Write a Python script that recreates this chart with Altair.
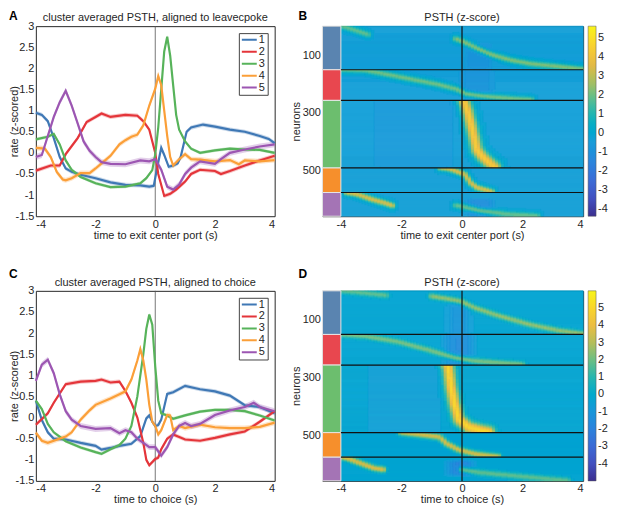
import numpy as np
import pandas as pd
import altair as alt

alt.data_transformers.disable_max_rows()

FONT = "Liberation Sans"
INK = "#262626"
SERIES = ["1", "2", "3", "4", "5"]
LINE_COLORS = ["#3f78b5", "#e4353a", "#57b35a", "#fb9f38", "#9c56b2"]
STRIP_COLORS = ["#5a84b0", "#e8474f", "#6cbe6e", "#f68f2c", "#a474b5"]
PARULA = ["#3b2e8f", "#4353c4", "#3a6fd8", "#2a88dc", "#1b9ed8", "#15b0c0",
          "#4ebc98", "#a5be64", "#e8b845", "#f9d22e", "#f8f518"]
XTICKS = [-4, -3, -2, -1, 0, 1, 2, 3, 4]
YTICKS = [-1.5, -1, -0.5, 0, 0.5, 1, 1.5, 2, 2.5, 3]
NTICKS = [100, 200, 300, 400, 500, 600]
CBTICKS = [-4, -3, -2, -1, 0, 1, 2, 3, 4, 5]
N_TOTAL = 658
BOUNDS = [0, 151, 257, 491, 576, 658]

# ---------------- panel A: aligned to leavecpoke ----------------
A1_T = [-4, -3.8, -3.6, -3.4, -3.2, -3.0, -2.8, -2.5, -2.0, -1.5, -1.0, -0.5, -0.2, -0.05, 0.05, 0.2, 0.3, 0.45, 0.6, 0.75, 0.85, 1.05, 1.2, 1.6, 2.0, 2.5, 3.0, 3.5, 3.8, 4.0]
A1_V = [0.95, 0.9, 0.75, 0.35, -0.1, -0.37, -0.45, -0.52, -0.6, -0.7, -0.76, -0.77, -0.8, -0.78, -0.4, 0.12, -0.05, -0.33, -0.3, -0.25, -0.1, 0.5, 0.6, 0.67, 0.62, 0.55, 0.5, 0.4, 0.33, 0.23]
A2_T = [-4, -3.5, -3.2, -3.0, -2.6, -2.3, -2.0, -1.8, -1.5, -1.0, -0.6, -0.4, -0.2, 0.0, 0.1, 0.3, 0.5, 0.7, 1.0, 1.2, 1.5, 2.0, 2.2, 2.5, 3.0, 3.5, 4.0]
A2_V = [-0.42, -0.3, -0.3, -0.03, 0.35, 0.73, 0.85, 0.93, 0.85, 0.9, 0.88, 0.75, 0.55, 0.0, -0.5, -1.02, -0.97, -0.87, -0.68, -0.5, -0.4, -0.43, -0.5, -0.43, -0.3, -0.18, -0.07]
A3_T = [-4, -3.6, -3.4, -3.2, -3.0, -2.8, -2.5, -2.0, -1.5, -1.0, -0.5, -0.3, -0.1, 0.0, 0.1, 0.2, 0.3, 0.4, 0.5, 0.6, 0.7, 0.8, 1.0, 1.2, 1.5, 2.0, 2.5, 3.0, 3.5, 4.0]
A3_V = [0.32, 0.38, 0.45, 0.2, -0.18, -0.4, -0.57, -0.72, -0.81, -0.8, -0.72, -0.6, -0.41, -0.03, 0.6, 1.5, 2.4, 2.75, 2.3, 1.6, 0.9, 0.55, 0.27, 0.1, 0.0, 0.06, 0.1, 0.08, 0.07, 0.0]
A4_T = [-4, -3.7, -3.5, -3.3, -3.1, -3.0, -2.8, -2.5, -2.2, -2.0, -1.8, -1.5, -1.2, -1.0, -0.8, -0.6, -0.4, -0.2, 0.0, 0.1, 0.2, 0.3, 0.4, 0.5, 0.6, 0.8, 1.0, 1.2, 1.5, 2.0, 2.5, 2.8, 3.0, 3.5, 4.0]
A4_V = [0.12, 0.1, -0.1, -0.45, -0.63, -0.65, -0.6, -0.48, -0.48, -0.37, -0.25, -0.07, 0.2, 0.3, 0.38, 0.43, 0.65, 1.12, 1.52, 1.82, 1.6, 1.0, 0.4, -0.1, -0.3, -0.15, -0.03, -0.15, -0.16, -0.2, -0.17, -0.27, -0.18, -0.2, -0.17]
A5_T = [-4, -3.8, -3.6, -3.4, -3.2, -3.0, -2.8, -2.6, -2.4, -2.2, -2.0, -1.8, -1.5, -1.0, -0.5, -0.2, 0.0, 0.2, 0.4, 0.6, 0.8, 1.0, 1.2, 1.5, 2.0, 2.2, 2.5, 3.0, 3.5, 4.0]
A5_V = [-0.1, -0.05, 0.4, 0.85, 1.2, 1.47, 1.12, 0.7, 0.27, 0.05, -0.1, -0.22, -0.26, -0.27, -0.18, -0.2, -0.15, -0.4, -0.8, -0.87, -0.75, -0.5, -0.35, -0.2, -0.26, -0.15, 0.0, 0.08, 0.15, 0.2]
SEM_A = [0.05, 0.05, 0.04, 0.06, 0.07]

# ---------------- panel C: aligned to choice ----------------
C1_T = [-4, -3.8, -3.6, -3.4, -3.0, -2.5, -2.0, -1.8, -1.5, -1.2, -0.8, -0.5, -0.3, -0.2, -0.1, 0.0, 0.1, 0.2, 0.4, 0.6, 1.0, 1.5, 2.0, 2.5, 3.0, 3.5, 4.0]
C1_V = [0.4, -0.06, -0.35, -0.5, -0.52, -0.6, -0.67, -0.76, -0.72, -0.67, -0.62, -0.44, -0.02, 0.05, -0.1, -0.2, -0.18, -0.05, 0.56, 0.6, 0.75, 0.67, 0.62, 0.52, 0.29, 0.25, 0.1]
C2_T = [-4, -3.6, -3.4, -3.0, -2.5, -2.0, -1.8, -1.5, -1.2, -1.0, -0.8, -0.6, -0.4, -0.3, -0.2, 0.0, 0.1, 0.2, 0.4, 0.6, 1.0, 1.5, 2.0, 2.5, 3.0, 3.5, 4.0]
C2_V = [-0.17, 0.1, 0.35, 0.79, 0.85, 0.87, 0.9, 0.83, 0.85, 0.63, 0.35, 0.0, -0.6, -1.0, -1.13, -0.98, -0.95, -0.75, -0.5, -0.4, -0.52, -0.55, -0.48, -0.4, -0.33, -0.1, 0.15]
C3_T = [-4, -3.8, -3.6, -3.4, -3.0, -2.5, -2.0, -1.8, -1.5, -1.2, -1.0, -0.8, -0.6, -0.4, -0.3, -0.2, -0.1, 0.0, 0.1, 0.2, 0.4, 0.6, 1.0, 1.5, 2.0, 2.5, 3.0, 3.5, 4.0]
C3_V = [0.4, 0.2, -0.15, -0.35, -0.56, -0.71, -0.82, -0.86, -0.75, -0.65, -0.5, -0.2, 0.5, 1.5, 2.1, 2.44, 2.2, 1.2, 0.4, 0.1, 0.05, -0.03, 0.05, 0.14, 0.18, 0.18, 0.15, 0.05, -0.07]
C4_T = [-4, -3.8, -3.6, -3.2, -3.0, -2.8, -2.5, -2.2, -2.0, -1.5, -1.2, -1.0, -0.8, -0.6, -0.5, -0.4, -0.3, -0.2, -0.1, 0.0, 0.1, 0.2, 0.4, 0.5, 0.6, 0.8, 1.0, 1.5, 2.0, 2.5, 3.0, 3.5, 4.0]
C4_V = [-0.36, -0.55, -0.6, -0.5, -0.45, -0.35, -0.05, 0.17, 0.3, 0.45, 0.55, 0.62, 0.9, 1.35, 1.62, 1.35, 0.9, 0.3, -0.1, -0.2, -0.4, -0.3, 0.06, 0.05, -0.3, -0.2, -0.25, -0.17, -0.23, -0.25, -0.25, -0.22, -0.12]
C5_T = [-4, -3.8, -3.6, -3.4, -3.2, -3.0, -2.8, -2.5, -2.0, -1.5, -1.2, -1.0, -0.8, -0.6, -0.4, -0.2, 0.0, 0.2, 0.4, 0.6, 0.8, 1.0, 1.2, 1.5, 2.0, 2.5, 3.0, 3.3, 3.5, 4.0]
C5_V = [0.87, 1.25, 1.37, 1.05, 0.55, 0.15, -0.05, -0.2, -0.27, -0.25, -0.37, -0.3, -0.35, -0.5, -0.6, -0.7, -0.7, -0.9, -0.7, -0.4, -0.2, -0.13, -0.2, -0.15, 0.06, 0.17, 0.25, 0.35, 0.25, 0.15]
SEM_C = [0.05, 0.05, 0.04, 0.06, 0.07]

# ---------------- heatmap B ridges (neuron index, peak time) ----------------
B_RIDGE_N = [[0, 10, 30], [45, 55, 65, 80, 100, 118, 130, 141, 150],
             [151, 153, 180, 202, 219, 236, 243, 252, 256],
             [257, 263, 300, 363, 430, 452, 474, 490],
             [491, 495, 515, 545, 560, 575], [577, 582, 600, 615, 622],
             [622, 628, 640, 652, 658]]
B_RIDGE_T = [[-4.0, -3.7, -3.1], [-0.2, 0.05, 0.25, 0.55, 1.0, 1.6, 2.2, 3.2, 4.0],
             [-4.0, -3.2, -1.9, -0.83, -0.19, 0.14, 0.67, 1.64, 2.3],
             [0.05, 0.08, 0.2, 0.35, 0.5, 0.67, 0.9, 1.1],
             [-0.7, -0.4, 0.1, 0.3, 0.5, 1.0], [-3.8, -3.5, -3.0, -2.5, -2.3],
             [-0.2, 0.1, 0.6, 1.5, 2.5]]
B_RIDGE_AMP = [1.8, 2.2, 2.0, 4.5, 3.4, 3.4, 1.8]
B_DIPS = [(60, 151, 0.1, 1.0, -1.0), (151, 257, 0.0, 1.0, -1.1),
          (257, 491, -3.0, -0.2, -0.7), (600, 658, 0.2, 1.0, -1.4)]
B_BASE = -0.4
B_DOMAIN = [-4.4, 5.6]

# ---------------- heatmap D ridges ----------------
D_RIDGE_N = [[0, 8, 17], [20, 30, 39, 61, 84, 117, 139, 150],
             [152, 158, 178, 206, 234, 243, 251, 256],
             [257, 262, 334, 390, 446, 474, 485, 490],
             [491, 496, 507, 530, 552, 566, 572, 575], [576, 580, 596, 615, 620],
             [620, 630, 646, 658]]
D_RIDGE_T = [[-4.0, -3.3, -2.5], [-1.0, -0.4, 0.0, 0.45, 1.1, 2.2, 3.2, 4.0],
             [-4.0, -3.2, -2.1, -1.1, -0.2, 0.35, 1.3, 2.0],
             [-0.5, -0.45, -0.36, -0.25, -0.1, 0.23, 0.66, 0.9],
             [-2.0, -1.6, -0.74, -0.5, -0.1, 0.45, 0.9, 1.2], [-4.0, -3.8, -3.4, -2.9, -2.6],
             [0.0, 0.55, 2.2, 3.5]]
D_RIDGE_AMP = [1.8, 2.4, 2.1, 5.0, 3.4, 3.6, 1.8]
D_DIPS = [(40, 151, -0.4, 0.2, -1.0), (151, 257, -0.5, 0.3, -1.4),
          (257, 491, -3.0, -0.8, -0.6), (590, 640, -0.4, 0.3, -1.8)]
D_BASE = -0.3
D_DOMAIN = [-5.0, 6.0]

LABEL = "'' + datum.value"
ONE = pd.DataFrame({"k": [0]})

PLOT_W, PLOT_H = 240, 191
HEAT_W, HEAT_H = 262, 191
PX_S = HEAT_W / 8.61
PX_N = HEAT_H / N_TOTAL


def text_layer(text, x, y, size=11, bold=False, align="left", baseline="top"):
    return alt.Chart(ONE).mark_text(
        text=text, fontSize=size, fontWeight="bold" if bold else "normal",
        align=align, baseline=baseline, font=FONT,
        color="black" if bold else INK).encode(x=alt.value(x), y=alt.value(y))


def line_panel(ts, vs, sems, title, xtitle, letter, ly):
    rows = []
    for name, t, v, s in zip(SERIES, ts, vs, sems):
        for a, b in zip(t, v):
            rows.append({"t": a, "v": b, "lo": b - s, "hi": b + s, "s": name})
    df = pd.DataFrame(rows)
    xsc = alt.Scale(domain=[-4, 4], nice=False, zero=False)
    ysc = alt.Scale(domain=[-1.5, 3], nice=False, zero=False)
    xax = alt.Axis(values=XTICKS, title=xtitle, labelExpr=LABEL)
    yax = alt.Axis(values=YTICKS, title="rate (z-scored)", labelExpr=LABEL,
                   titleX=-16, titleY=PLOT_H / 2)
    cs = alt.Scale(domain=SERIES, range=LINE_COLORS)
    leg = alt.Legend(title=None, orient="top-right", offset=7, padding=2,
                     strokeColor="#444", fillColor="white", symbolType="stroke",
                     symbolStrokeWidth=2, symbolSize=225, symbolOpacity=1,
                     clipHeight=9.5, labelFontSize=11, rowPadding=0, labelOffset=1)
    base = alt.Chart(df)
    band = base.mark_area(opacity=0.28).encode(
        x=alt.X("t:Q", scale=xsc, axis=xax),
        y=alt.Y("lo:Q", scale=ysc, axis=yax), y2="hi:Q",
        color=alt.Color("s:N", scale=cs, legend=leg))
    line = base.mark_line(strokeWidth=2.2).encode(
        x=alt.X("t:Q", scale=xsc, axis=xax),
        y=alt.Y("v:Q", scale=ysc, axis=yax),
        color=alt.Color("s:N", scale=cs, legend=leg))
    rule = alt.Chart(ONE).mark_rule(color="#555", strokeWidth=0.8).encode(x=alt.datum(0))
    ttl = text_layer(title, PLOT_W / 2, -3, align="center", baseline="bottom")
    lab = text_layer(letter, -27, ly, size=12, bold=True)
    return alt.layer(rule, band, line, ttl, lab).properties(width=PLOT_W, height=PLOT_H)


def seg_dist(px, py, ax, ay, bx, by):
    dx, dy = bx - ax, by - ay
    L2 = dx * dx + dy * dy
    if L2 == 0:
        u = np.zeros_like(px)
    else:
        u = np.clip(((px - ax) * dx + (py - ay) * dy) / L2, 0, 1)
    return np.hypot(px - (ax + u * dx), py - (ay + u * dy))


def build_cells(ridge_n, ridge_t, amps, dips, base):
    n_edges = np.linspace(0, N_TOTAL, HEAT_H + 1)
    t_edges = np.round(np.arange(-4, 4.0001, 0.1), 3)
    tc = (t_edges[:-1] + t_edges[1:]) / 2
    px = tc * PX_S
    out = []
    for i in range(len(n_edges) - 1):
        n0, n1 = n_edges[i], n_edges[i + 1]
        nc = (n0 + n1) / 2
        k = np.searchsorted(BOUNDS, nc, side="right") - 1
        lo_b, hi_b = BOUNDS[k], BOUNDS[k + 1]
        val = np.full(len(tc), base, dtype=float)
        for (a0, a1, b0, b1, dv) in dips:
            fn = 0.5 * (np.tanh((nc - a0) / 6.0) - np.tanh((nc - a1) / 6.0))
            if a0 - 3 <= nc < a1 + 3 and lo_b <= (a0 + a1) / 2 < hi_b:
                ft = 0.5 * (np.tanh((tc - b0) / 0.15) - np.tanh((tc - b1) / 0.15))
                val = val + (dv - base) * ft * fn
        py = nc * PX_N
        for rn, rt, amp in zip(ridge_n, ridge_t, amps):
            mid = (rn[0] + rn[-1]) / 2
            if not (lo_b <= mid < hi_b):
                continue
            w = 6.0 if amp >= 4.5 else 3.2
            d = np.full(len(tc), 1e9)
            for j in range(len(rn) - 1):
                d = np.minimum(d, seg_dist(px, py, rt[j] * PX_S, rn[j] * PX_N,
                                           rt[j + 1] * PX_S, rn[j + 1] * PX_N))
            g = np.exp(-(d / w) ** 2)
            val = val + (amp - val) * g
        q = np.round(val * 4) / 4
        j = 0
        while j < len(q):
            m = j
            while m + 1 < len(q) and q[m + 1] == q[j]:
                m += 1
            out.append({"t0": t_edges[j], "t1": t_edges[m + 1], "n0": n0, "n1": n1, "v": q[j]})
            j = m + 1
    return pd.DataFrame(out)


def heat_panel(cells, domain, title, xtitle, letter, ly):
    xsc = alt.Scale(domain=[-4.61, 4], nice=False, zero=False)
    ysc = alt.Scale(domain=[0, N_TOTAL], reverse=True, nice=False, zero=False)
    strip_px = HEAT_W * 0.61 / 8.61
    xax = alt.Axis(values=XTICKS, title=xtitle, labelExpr=LABEL,
                   titleX=(HEAT_W + strip_px) / 2)
    yax = alt.Axis(values=NTICKS, title="neurons", titlePadding=1)
    stops = list(np.linspace(domain[0], domain[1], len(PARULA)))
    csc = alt.Scale(domain=stops, range=PARULA, clamp=True)
    leg = alt.Legend(title=None, orient="right", offset=5, gradientLength=HEAT_H,
                     gradientThickness=8, values=CBTICKS, labelFontSize=11,
                     gradientStrokeColor="#555", gradientStrokeWidth=0.5,
                     labelOverlap=False, direction="vertical", labelExpr=LABEL,
                     labelOffset=2, padding=0)
    heat = alt.Chart(cells).mark_rect(strokeWidth=0.6).encode(
        x=alt.X("t0:Q", scale=xsc, axis=xax), x2="t1:Q",
        y=alt.Y("n0:Q", scale=ysc, axis=yax), y2="n1:Q",
        color=alt.Color("v:Q", scale=csc, legend=leg),
        stroke=alt.Stroke("v:Q", scale=csc, legend=None))
    strip_df = pd.DataFrame({"n0": BOUNDS[:-1], "n1": BOUNDS[1:], "c": STRIP_COLORS,
                             "x0": [-4.61] * 5, "x1": [-4.0] * 5})
    strip = alt.Chart(strip_df).mark_rect(stroke="#e6e6e6", strokeWidth=1).encode(
        x=alt.X("x0:Q", scale=xsc, axis=xax), x2="x1:Q",
        y=alt.Y("n0:Q", scale=ysc, axis=yax), y2="n1:Q",
        fill=alt.Fill("c:N", scale=None))
    bdf = pd.DataFrame({"n": BOUNDS[1:-1]})
    brules = alt.Chart(bdf).mark_rule(color="#111", strokeWidth=1.2).encode(
        y=alt.Y("n:Q", scale=ysc, axis=yax), x=alt.datum(-4), x2=alt.datum(4))
    zero = alt.Chart(ONE).mark_rule(color="#111", strokeWidth=1.2).encode(
        x=alt.datum(0), y=alt.datum(0), y2=alt.datum(N_TOTAL))
    ttl = text_layer(title, (HEAT_W + strip_px) / 2, -3, align="center", baseline="bottom")
    lab = text_layer(letter, -24, ly, size=12, bold=True)
    return alt.layer(heat, strip, brules, zero, ttl, lab).properties(width=HEAT_W, height=HEAT_H)


A = line_panel([A1_T, A2_T, A3_T, A4_T, A5_T], [A1_V, A2_V, A3_V, A4_V, A5_V], SEM_A,
               "cluster averaged PSTH, aligned to leavecpoke", "time to exit center port (s)", "A", -15)
C = line_panel([C1_T, C2_T, C3_T, C4_T, C5_T], [C1_V, C2_V, C3_V, C4_V, C5_V], SEM_C,
               "cluster averaged PSTH, aligned to choice", "time to choice (s)", "C", -22)
B = heat_panel(build_cells(B_RIDGE_N, B_RIDGE_T, B_RIDGE_AMP, B_DIPS, B_BASE), B_DOMAIN,
               "PSTH (z-score)", "time to exit center port (s)", "B", -15)
D = heat_panel(build_cells(D_RIDGE_N, D_RIDGE_T, D_RIDGE_AMP, D_DIPS, D_BASE), D_DOMAIN,
               "PSTH (z-score)", "time to choice (s)", "D", -22)

chart = alt.vconcat(
    alt.hconcat(A, B, spacing=10),
    alt.hconcat(C, D, spacing=10),
    spacing=26,
).properties(
    padding={"left": 0, "top": 0, "right": 0, "bottom": 0},
    autosize=alt.AutoSizeParams(type="pad"),
).configure_view(
    stroke=INK, strokeWidth=1
).configure_axis(
    grid=False, domain=False, ticks=False, labelFont=FONT, titleFont=FONT,
    labelFontSize=11, titleFontSize=11, titleFontWeight="normal",
    labelColor=INK, titleColor=INK, labelPadding=2, titlePadding=0
).configure_legend(
    labelFont=FONT, labelColor=INK
)

chart.save("out.html", embed_options={"renderer": "svg", "actions": False})
